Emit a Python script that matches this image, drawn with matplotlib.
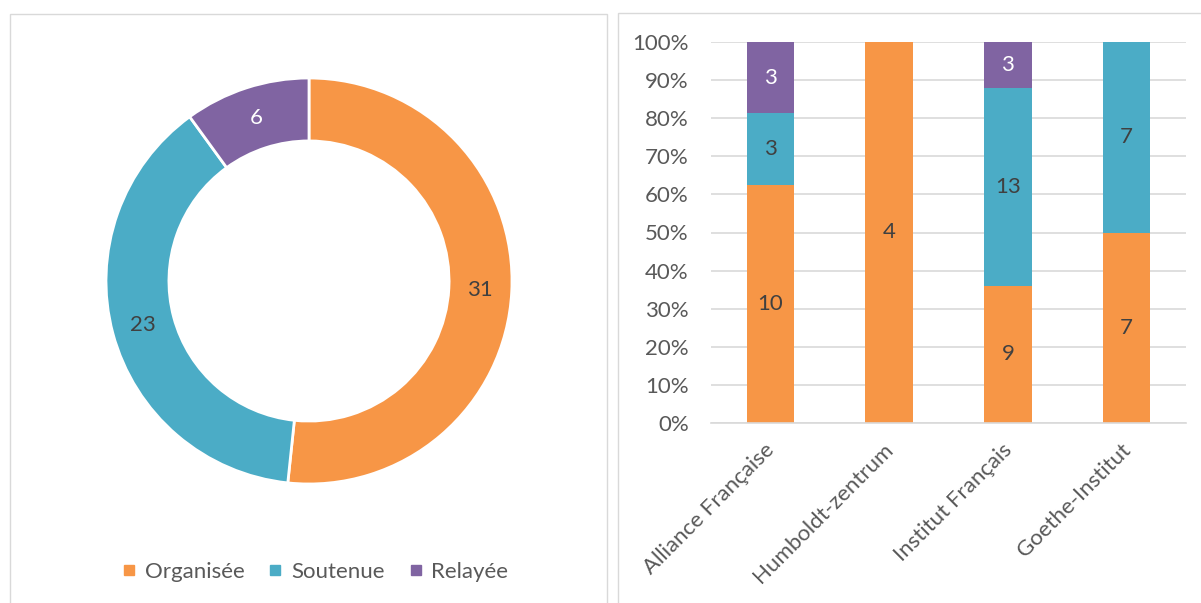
import matplotlib
matplotlib.use("Agg")
from matplotlib import pyplot as plt
from matplotlib.patches import Rectangle
from matplotlib.lines import Line2D
from matplotlib.transforms import ScaledTranslation
import numpy as np

plt.rcParams['font.family'] = ['Lato', 'DejaVu Sans']

# Donut data
types = ["Organisée", "Soutenue", "Relayée"]
totals = [31, 23, 6]
colors = ["#F79646", "#4BACC6", "#8064A2"]

# Stacked bar data
institutes = ["Alliance Française", "Humboldt-zentrum", "Institut Français", "Goethe-Institut"]
organisee = [10, 4, 9, 7]
soutenue = [3, 0, 13, 7]
relayee = [3, 0, 3, 0]

text_dark = "#404040"
text_mid = "#595959"
grid_c = "#D9D9D9"
fs = 16

fig = plt.figure(figsize=(12.01, 6.03), dpi=100)

# panel borders
fig.add_artist(Rectangle((10 / 1201, -0.01), 597 / 1201, 1 - 14 / 603 + 0.01,
                         transform=fig.transFigure, fill=False, ec=grid_c, lw=1))
fig.add_artist(Rectangle((618 / 1201, -0.01), 0.5, 1 - 13 / 603 + 0.01,
                         transform=fig.transFigure, fill=False, ec=grid_c, lw=1))

# ---- donut ----
ax1 = fig.add_axes([106 / 1201, 1 - 484 / 603, 406 / 1201, 406 / 603])
wedges, _ = ax1.pie(totals, colors=colors, startangle=90, counterclock=False,
                    radius=1, wedgeprops=dict(width=0.31, edgecolor="white", linewidth=2))
ax1.set_xlim(-1, 1)
ax1.set_ylim(-1, 1)
ax1.set_aspect("equal")
total = sum(totals)
cum = 0
for v, c in zip(totals, colors):
    mid = 90 - (cum + v / 2) / total * 360
    cum += v
    r = 0.845
    col = "white" if c == "#8064A2" else text_dark
    ax1.text(r * np.cos(np.radians(mid)), r * np.sin(np.radians(mid)), str(v),
             ha="center", va="center", fontsize=fs, color=col)

handles = [Line2D([], [], marker="s", ls="", color=c, markersize=7) for c in colors]
fig.legend(handles, types, loc="center", bbox_to_anchor=(313 / 1201, 1 - 572 / 603),
           ncol=3, frameon=False, fontsize=fs, labelcolor=text_mid,
           handletextpad=0.2, columnspacing=0.9, handlelength=1.0)

# ---- stacked 100% bars ----
ax2 = fig.add_axes([711 / 1201, 1 - 423 / 603, 475 / 1201, 381 / 603])
x = np.arange(len(institutes))
sums = np.array(organisee) + np.array(soutenue) + np.array(relayee)
bottom = np.zeros(len(institutes))
for vals, c in zip([organisee, soutenue, relayee], colors):
    vals = np.array(vals)
    frac = vals / sums * 100
    ax2.bar(x, frac, 0.4, bottom=bottom, color=c, zorder=2)
    for xi, f, b, v in zip(x, frac, bottom, vals):
        if v > 0:
            col = "white" if c == "#8064A2" else text_dark
            ax2.text(xi, b + f / 2, str(v), ha="center", va="center", fontsize=fs, color=col)
    bottom += frac

ax2.set_xlim(-0.5, 3.5)
ax2.set_ylim(0, 100)
ax2.set_yticks(np.arange(0, 101, 10))
ax2.set_yticklabels([f"{t}%" for t in range(0, 101, 10)])
ax2.yaxis.grid(True, color=grid_c, lw=1.2, zorder=0)
for s in ["top", "right", "left"]:
    ax2.spines[s].set_visible(False)
ax2.spines["bottom"].set_color(grid_c)
ax2.spines["bottom"].set_linewidth(1.2)
ax2.tick_params(axis="y", length=0, labelsize=fs, colors=text_mid, pad=16)
ax2.tick_params(axis="x", length=0, labelsize=fs, colors=text_mid, pad=12)
ax2.set_xticks(x)
ax2.set_xticklabels(institutes, rotation=45, ha="right", va="top", rotation_mode="anchor")
shift = ScaledTranslation(-6 / 100, 0, fig.dpi_scale_trans)
for lab in ax2.get_xticklabels():
    lab.set_color(text_mid)
    lab.set_transform(lab.get_transform() + shift)

fig.savefig("out.png", dpi=100)
